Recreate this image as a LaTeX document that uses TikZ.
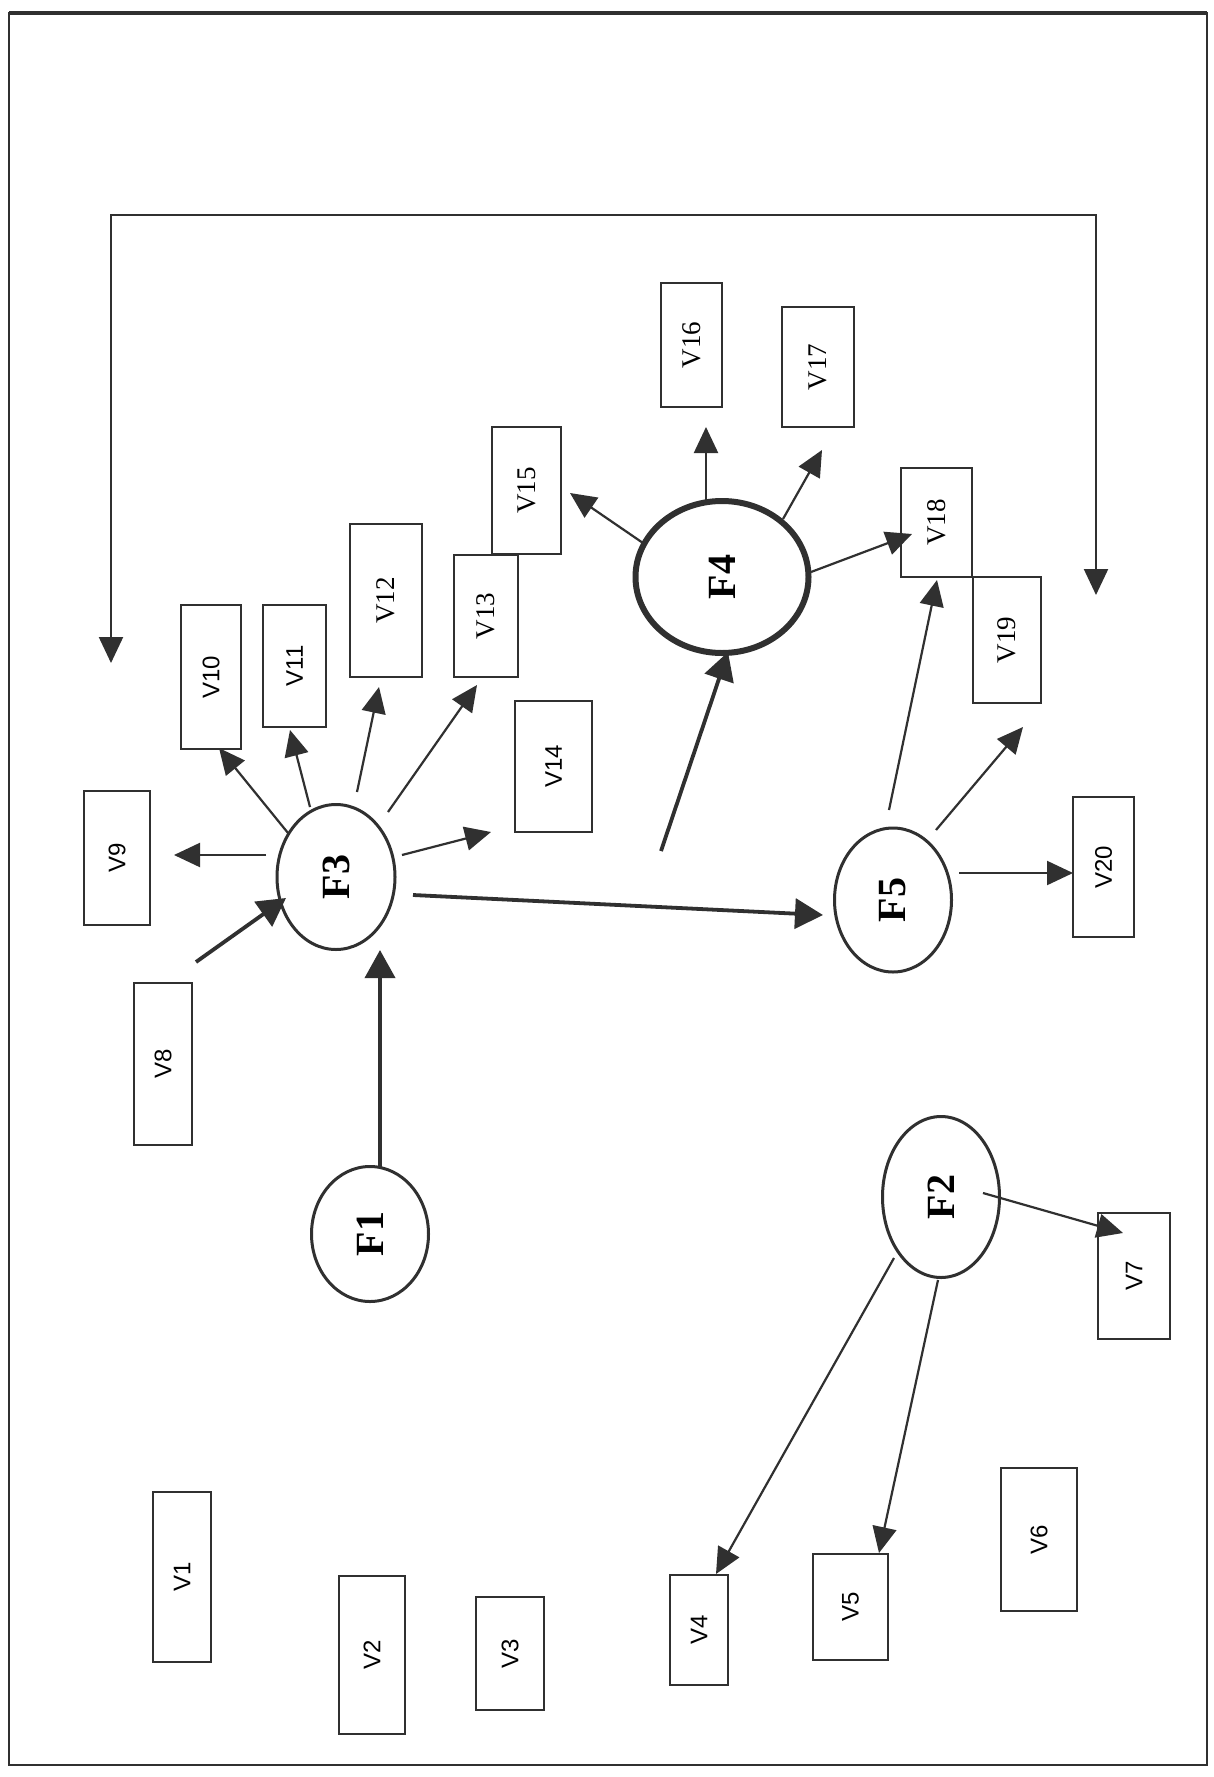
\documentclass[tikz,border=0pt]{standalone}
\usepackage{fontspec}
\setmainfont{Liberation Serif}
\setsansfont{Liberation Sans}
\usetikzlibrary{arrows.meta,calc,shapes.geometric}
\definecolor{ink}{HTML}{303030}
\begin{document}
\begin{tikzpicture}[x=1pt,y=-1pt,
  vbox/.style={draw=ink, line width=2.3pt, inner sep=0pt},
  serifv/.style={vbox, font=\fontsize{27}{30}\selectfont},
  sansv/.style={vbox, font=\sffamily\fontsize{24}{28}\selectfont},
  fac/.style={ellipse, draw=ink, line width=3pt, inner sep=0pt, font=\bfseries\fontsize{40}{44}\selectfont},
  thinarr/.style={draw=ink, line width=2.2pt, -{Triangle[length=26pt,width=24pt]}},
  thickarr/.style={draw=ink, line width=3.8pt, -{Triangle[length=28pt,width=30pt]}},
  botharr/.style={draw=ink, line width=2.2pt, {Triangle[length=26pt,width=24pt]}-{Triangle[length=26pt,width=24pt]}}
]
\useasboundingbox (0,0) rectangle (1214,1777);
\fill[white] (0,0) rectangle (1214,1777);
\draw[ink, line width=2.5pt] (9,1765) -- (9,13) -- (1207,13) -- (1207,1765) -- cycle;
\draw[ink, line width=4pt] (9,13) -- (1207,13);

% variable boxes
\node[sansv, minimum width=58pt, minimum height=170pt] (V1) at (182,1577) {\rotatebox{90}{V1}};
\node[sansv, minimum width=66pt, minimum height=158pt] (V2) at (372,1655) {\rotatebox{90}{V2}};
\node[sansv, minimum width=68pt, minimum height=113pt] (V3) at (510,1653.5) {\rotatebox{90}{V3}};
\node[sansv, minimum width=58pt, minimum height=110pt] (V4) at (699,1630) {\rotatebox{90}{V4}};
\node[sansv, minimum width=75pt, minimum height=106pt] (V5) at (850.5,1607) {\rotatebox{90}{V5}};
\node[sansv, minimum width=76pt, minimum height=143pt] (V6) at (1039,1539.5) {\rotatebox{90}{V6}};
\node[sansv, minimum width=72pt, minimum height=126pt] (V7) at (1134,1276) {\rotatebox{90}{V7}};
\node[sansv, minimum width=58pt, minimum height=162pt] (V8) at (163,1064) {\rotatebox{90}{V8}};
\node[sansv, minimum width=66pt, minimum height=134pt] (V9) at (117,858) {\rotatebox{90}{V9}};
\node[sansv, minimum width=60pt, minimum height=144pt] (V10) at (211,677) {\rotatebox{90}{V10}};
\node[sansv, minimum width=63pt, minimum height=122pt] (V11) at (294.5,666) {\rotatebox{90}{V11}};
\node[serifv, minimum width=72pt, minimum height=153pt] (V12) at (386,600.5) {\rotatebox{90}{V12}};
\node[serifv, minimum width=64pt, minimum height=122pt] (V13) at (486,616) {\rotatebox{90}{V13}};
\node[sansv, minimum width=77pt, minimum height=131pt] (V14) at (553.5,766.5) {\rotatebox{90}{V14}};
\node[serifv, minimum width=69pt, minimum height=127pt] (V15) at (526.5,490.5) {\rotatebox{90}{V15}};
\node[serifv, minimum width=61pt, minimum height=124pt] (V16) at (691.5,345) {\rotatebox{90}{V16}};
\node[serifv, minimum width=72pt, minimum height=120pt] (V17) at (818,367) {\rotatebox{90}{V17}};
\node[serifv, minimum width=71pt, minimum height=109pt] (V18) at (936.5,522.5) {\rotatebox{90}{V18}};
\node[serifv, minimum width=68pt, minimum height=126pt] (V19) at (1007,640) {\rotatebox{90}{V19}};
\node[sansv, minimum width=61pt, minimum height=140pt] (V20) at (1103.5,867) {\rotatebox{90}{V20}};

% factors
\node[fac, minimum width=117pt, minimum height=135pt] (F1) at (370,1234) {\rotatebox{90}{F1}};
\node[fac, minimum width=117pt, minimum height=161pt] (F2) at (941,1197) {\rotatebox{90}{F2}};
\node[fac, minimum width=118pt, minimum height=145pt] (F3) at (336,877) {\rotatebox{90}{F3}};
\node[fac, line width=6pt, minimum width=173pt, minimum height=152pt] (F4) at (722,577) {\rotatebox{90}{F4}};
\node[fac, minimum width=117pt, minimum height=144pt] (F5) at (893,900) {\rotatebox{90}{F5}};

% free ends
\coordinate (f4src) at (661,851);
\coordinate (fbL) at (111,663);
\coordinate (cl) at (111,215);
\coordinate (cr) at (1096,215);
\coordinate (fbR) at (1096,595);

% top feedback connector
\draw[botharr] (fbL) -- (cl) -- (cr) -- (fbR);

% thick arrows
\draw[thickarr] ($(F1)+(10,-66)$) -- ($(F3)+(44,73)$);
\draw[thickarr] ($(V8)+(33,-102)$) -- ($(F3)+(-50,21)$);
\draw[thickarr] ($(F3)+(77,18)$) -- ($(F5)+(-70,15)$);
\draw[thickarr] (f4src) -- ($(F4)+(6,75)$);

% F3 outputs
\draw[thinarr] ($(F3)+(-70,-22)$) -- ($(V9)+(57,-3)$);
\draw[thinarr] ($(F3)+(-48,-44)$) -- ($(V10)+(8,71)$);
\draw[thinarr] ($(F3)+(-26,-70)$) -- ($(V11)+(-4.5,64)$);
\draw[thinarr] ($(F3)+(21,-85)$) -- ($(V12)+(-7,86.5)$);
\draw[thinarr] ($(F3)+(52,-65)$) -- ($(V13)+(-9,69)$);
\draw[thinarr] ($(F3)+(66,-22)$) -- ($(V14)+(-62.5,65.5)$);

% F4 outputs
\draw[thinarr] ($(F4)+(-79,-34)$) -- ($(V15)+(43.5,2.5)$);
\draw[thinarr] ($(F4)+(-16,-77)$) -- ($(V16)+(14.5,82)$);
\draw[thinarr] ($(F4)+(61,-58)$) -- ($(V17)+(4,83)$);
\draw[thinarr] ($(F4)+(89,-5)$) -- ($(V18)+(-24.5,11.5)$);

% F5 outputs
\draw[thinarr] ($(F5)+(-4,-90)$) -- ($(V18)+(0.5,57.5)$);
\draw[thinarr] ($(F5)+(43,-70)$) -- ($(V19)+(16,87)$);
\draw[thinarr] ($(F5)+(66,-27)$) -- ($(V20)+(-30.5,6)$);

% F2 outputs
\draw[thinarr] ($(F2)+(42,-4)$) -- ($(V7)+(-11,-43)$);
\draw[thinarr] ($(F2)+(-47,61)$) -- ($(V4)+(17,-56)$);
\draw[thinarr] ($(F2)+(-3,83)$) -- ($(V5)+(28.5,-54)$);
\end{tikzpicture}
\end{document}
